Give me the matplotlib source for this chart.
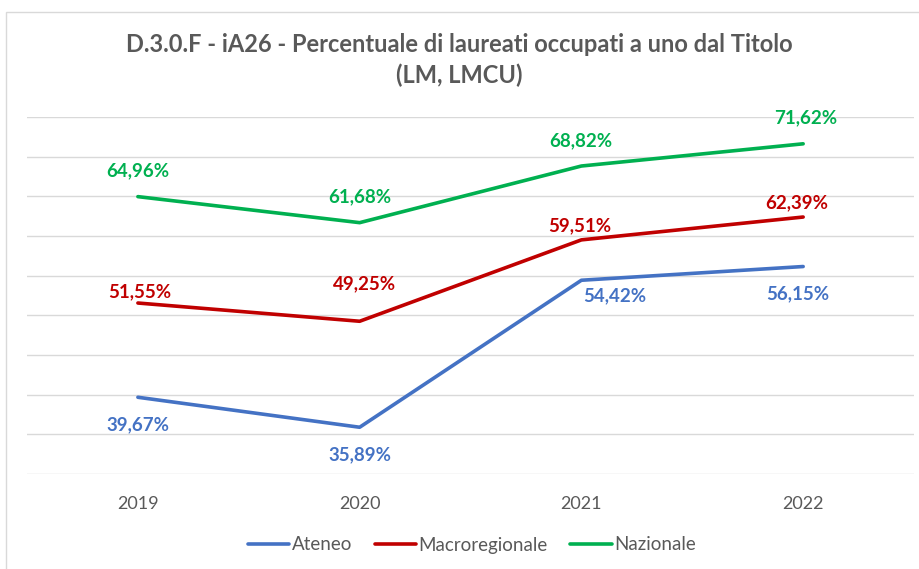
import numpy as np
import matplotlib.pyplot as plt
from matplotlib.patches import Rectangle

plt.rcParams['font.family'] = ['Lato', 'DejaVu Sans']

years = ['2019', '2020', '2021', '2022']
ateneo = [39.67, 35.89, 54.42, 56.15]
macroregionale = [51.55, 49.25, 59.51, 62.39]
nazionale = [64.96, 61.68, 68.82, 71.62]

series = [
    ('Ateneo', ateneo, '#4472C4'),
    ('Macroregionale', macroregionale, '#C00000'),
    ('Nazionale', nazionale, '#00B050'),
]

# label offsets in pixels (dx, dy) per series / point
offsets = {
    'Ateneo': [(0, -27), (0, -27), (33, -15), (-5, -27)],
    'Macroregionale': [(2, 11), (5, 38), (-2, 14), (-6, 14)],
    'Nazionale': [(0, 26), (0, 26), (-1, 25), (3, 26)],
}

fig = plt.figure(figsize=(9.19, 5.69), dpi=100)
ax = fig.add_axes([0.0294, 0.1670, 0.9652, 0.6274])

# chart border
fig.patches.append(Rectangle((6 / 919, -0.1), 2, 1 - 12 / 569 + 0.1, transform=fig.transFigure,
                             fill=False, edgecolor='#D9D9D9', linewidth=1))

x = np.arange(len(years))
for name, vals, color in series:
    ax.plot(x, vals, color=color, linewidth=2.6, label=name, solid_capstyle='round')
    for i, v in enumerate(vals):
        dx, dy = offsets[name][i]
        ax.annotate(f'{v:.2f}%'.replace('.', ','), (x[i], v), xytext=(dx * 0.72, dy * 0.72),
                    textcoords='offset points', ha='center', va='center',
                    color=color, fontsize=13.5, fontweight='bold')

ax.set_xlim(-0.5, 3.5)
ax.set_ylim(30, 75)
ax.set_yticks(np.arange(30, 76, 5))
ax.set_yticklabels([])
ax.set_xticks(x)
ax.set_xticklabels(years, color='#595959', fontsize=13)
ax.tick_params(axis='both', length=0)
ax.tick_params(axis='x', pad=16)
ax.grid(axis='y', color='#D9D9D9', linewidth=1)
ax.set_axisbelow(True)
for s in ax.spines.values():
    s.set_visible(False)

fig.text(0.5, 1 - 60 / 569, 'D.3.0.F - iA26 - Percentuale di laureati occupati a uno dal Titolo\n(LM, LMCU)',
         ha='center', va='center', fontsize=17, fontweight='bold', color='#595959', linespacing=1.35)

leg = fig.legend(loc='center', bbox_to_anchor=(472 / 919, 1 - 545 / 569), ncol=3, frameon=False,
                 fontsize=13.5, handlelength=2.2, handletextpad=0.15, columnspacing=1.2)
for t in leg.get_texts():
    t.set_color('#595959')

fig.savefig('out.png', dpi=100)
